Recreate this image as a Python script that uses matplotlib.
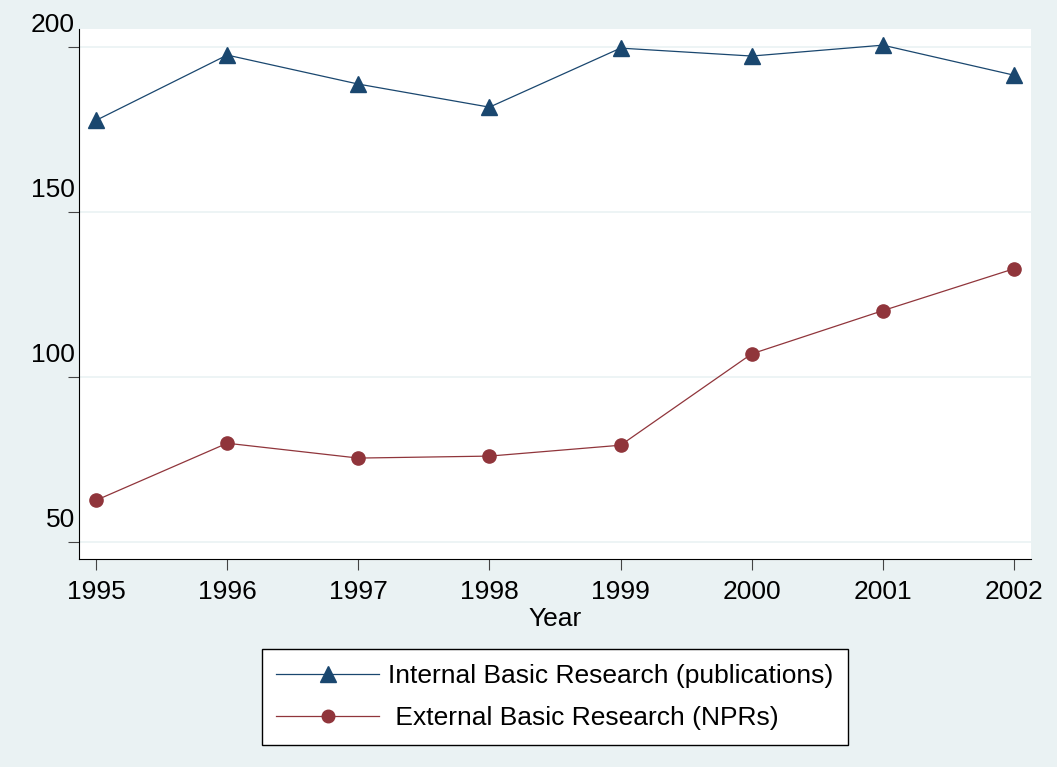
import matplotlib
matplotlib.use("Agg")
import matplotlib.pyplot as plt
import matplotlib.transforms as mtransforms

years = [1995, 1996, 1997, 1998, 1999, 2000, 2001, 2002]
internal = [177.8, 197.6, 188.8, 181.8, 199.7, 197.3, 200.6, 191.5]
external = [62.6, 79.9, 75.4, 76.0, 79.3, 107.0, 120.1, 132.8]
yticks = [50, 100, 150, 200]

bg = '#eaf2f3'
blue = '#1a476f'
red = '#90353b'

plt.rcParams['font.family'] = ['Liberation Sans', 'DejaVu Sans']

fig = plt.figure(figsize=(10.57, 7.67), dpi=100, facecolor=bg)
ax = fig.add_axes([79/1057, 1 - 559/767, (1031-79)/1057, (559-29)/767])
ax.set_facecolor('white')

l1, = ax.plot(years, internal, color=blue, lw=0.9, marker='^', ms=11.5,
              markeredgecolor=blue, markerfacecolor=blue)
l2, = ax.plot(years, external, color=red, lw=0.9, marker='o', ms=9.5,
              markeredgecolor=red, markerfacecolor=red)

ax.set_xlim(1994.87, 2002.13)
ax.set_ylim(44.8, 205.5)
ax.set_xticks(years)
ax.set_yticks(yticks)
ax.grid(axis='y', color=bg, lw=1.2)
ax.set_axisbelow(True)

for s in ['top', 'right']:
    ax.spines[s].set_visible(False)
ax.spines['left'].set_color('black')
ax.spines['bottom'].set_color('black')

ax.tick_params(axis='both', direction='out', length=8, color='#444444',
               labelsize=19)
ax.tick_params(axis='x', pad=7)
ax.tick_params(axis='y', pad=-5)

# Stata style: y labels sit above the tick
off = mtransforms.ScaledTranslation(0, 10/100, fig.dpi_scale_trans)
for lab in ax.get_yticklabels():
    lab.set_verticalalignment('bottom')
    lab.set_transform(lab.get_transform() + off)

ax.set_xlabel('Year', fontsize=19, labelpad=2)

leg = fig.legend(handles=[l1, l2],
                 labels=['Internal Basic Research (publications)',
                         ' External Basic Research (NPRs)'],
                 loc='center', bbox_to_anchor=(555/1057, 1 - 697/767),
                 ncol=1, fontsize=19, frameon=True, fancybox=False,
                 edgecolor='black', facecolor='white', framealpha=1,
                 handlelength=3.9, handletextpad=0.35, markerscale=0.95,
                 borderpad=0.55, borderaxespad=0, labelspacing=0.7)
leg.get_frame().set_linewidth(1.0)

fig.savefig('out.png', dpi=100, facecolor=bg)
